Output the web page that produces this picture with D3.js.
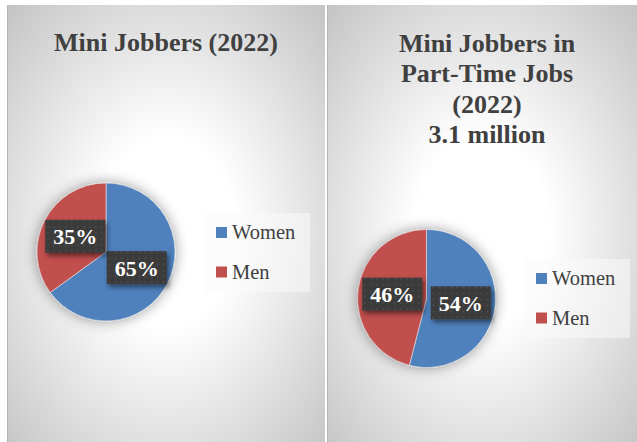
<!DOCTYPE html>
<html>
<head>
<meta charset="utf-8">
<script src="https://cdn.jsdelivr.net/npm/d3@7"></script>
<style>
  html, body { margin: 0; padding: 0; background: #ffffff; }
  svg { display: block; }
</style>
</head>
<body>
<svg id="chart" width="637" height="442"></svg>
<script>
// Shares of mini jobbers by gender, 2022
const categories = ["Women", "Men"];
const miniJobbersShare = [65, 35];
const partTimeShare = [54, 46];
const leftTitle = ["Mini Jobbers (2022)"];
const rightTitle = ["Mini Jobbers in", "Part-Time Jobs", "(2022)", "3.1 million"];
const sliceColors = ["#4f81bd", "#c0504d"];

const FONT = "Liberation Serif";

const svg = d3.select("#chart");
const defs = svg.append("defs");

// Panel background: soft radial fade from white to grey
const grad = defs.append("radialGradient")
  .attr("id", "panelBg").attr("cx", 0.5).attr("cy", 0.52).attr("r", 0.72);
grad.append("stop").attr("offset", 0).attr("stop-color", "#ffffff");
grad.append("stop").attr("offset", 0.3).attr("stop-color", "#ffffff");
grad.append("stop").attr("offset", 1).attr("stop-color", "#c4c4c4");

// Halo under the pie
const pieShadow = defs.append("filter").attr("id", "pieShadow")
  .attr("x", "-40%").attr("y", "-40%").attr("width", "180%").attr("height", "180%");
pieShadow.append("feGaussianBlur").attr("in", "SourceAlpha").attr("stdDeviation", 7).attr("result", "b");
pieShadow.append("feComponentTransfer").attr("in", "b").attr("result", "s")
  .append("feFuncA").attr("type", "linear").attr("slope", 0.4);
const pm = pieShadow.append("feMerge");
pm.append("feMergeNode").attr("in", "s");
pm.append("feMergeNode").attr("in", "SourceGraphic");

// Shadow under the value boxes
const boxShadow = defs.append("filter").attr("id", "boxShadow")
  .attr("x", "-30%").attr("y", "-30%").attr("width", "160%").attr("height", "170%");
boxShadow.append("feGaussianBlur").attr("in", "SourceAlpha").attr("stdDeviation", 2.5).attr("result", "b");
boxShadow.append("feOffset").attr("in", "b").attr("dx", 2).attr("dy", 3).attr("result", "o");
boxShadow.append("feComponentTransfer").attr("in", "o").attr("result", "s")
  .append("feFuncA").attr("type", "linear").attr("slope", 0.5);
const bm = boxShadow.append("feMerge");
bm.append("feMergeNode").attr("in", "s");
bm.append("feMergeNode").attr("in", "SourceGraphic");

// Dotted texture for the value boxes
const dots = defs.append("pattern").attr("id", "dots")
  .attr("width", 6).attr("height", 6).attr("patternUnits", "userSpaceOnUse");
dots.append("rect").attr("width", 6).attr("height", 6).attr("fill", "#3a3a3a");
dots.append("rect").attr("x", 2).attr("y", 2).attr("width", 1.3).attr("height", 1.3).attr("fill", "#5a5a5a");

function drawPanel(cfg) {
  const g = svg.append("g");
  g.append("rect")
    .attr("x", cfg.x).attr("y", cfg.y).attr("width", cfg.w).attr("height", cfg.h)
    .attr("fill", "url(#panelBg)");
  g.append("line").attr("x1", cfg.x + 0.5).attr("x2", cfg.x + 0.5)
    .attr("y1", cfg.y).attr("y2", cfg.y + cfg.h)
    .attr("stroke", "#b4b4b4").attr("stroke-width", 1);

  // Title
  const title = g.append("text")
    .attr("text-anchor", "middle")
    .attr("font-family", FONT)
    .attr("font-weight", "bold").attr("font-size", 26)
    .attr("fill", "#404040");
  cfg.title.forEach((line, i) => {
    title.append("tspan").attr("x", cfg.titleX).attr("y", cfg.titleY + i * 30.3).text(line);
  });

  // Pie
  const data = categories.map((c, i) => ({ name: c, value: cfg.values[i], color: sliceColors[i] }));
  const pie = d3.pie().sort(null).value(d => d.value);
  const arcs = pie(data);
  const arc = d3.arc().innerRadius(0).outerRadius(cfg.r);
  const pg = g.append("g").attr("transform", `translate(${cfg.cx},${cfg.cy})`);
  pg.append("g").attr("filter", "url(#pieShadow)")
    .selectAll("path").data(arcs).join("path")
    .attr("d", arc).attr("fill", d => d.data.color)
    .attr("stroke", "#e8e8e8").attr("stroke-width", 0.6);

  // Value boxes at slice centroids
  const bw = 60, bh = 33;
  const labels = pg.selectAll("g.lbl").data(arcs).join("g").attr("class", "lbl")
    .attr("transform", d => { const c = arc.centroid(d); return `translate(${c[0]},${c[1]})`; });
  labels.append("rect")
    .attr("x", -bw / 2).attr("y", -bh / 2).attr("width", bw).attr("height", bh)
    .attr("fill", "url(#dots)").attr("filter", "url(#boxShadow)");
  labels.append("text")
    .attr("text-anchor", "middle").attr("y", 8)
    .attr("font-family", FONT)
    .attr("font-weight", "bold").attr("font-size", 22).attr("fill", "#ffffff")
    .text(d => d.data.value + "%");

  // Legend
  const lg = g.append("g");
  lg.append("rect")
    .attr("x", cfg.legX).attr("y", cfg.legY).attr("width", 105).attr("height", cfg.legH)
    .attr("fill", "#fafafa").attr("opacity", 0.55);
  const items = lg.selectAll("g.item").data(data).join("g").attr("class", "item")
    .attr("transform", (d, i) => `translate(${cfg.legX + 11},${cfg.legFirst + i * cfg.legStep})`);
  items.append("rect").attr("x", 0).attr("y", -12).attr("width", 11).attr("height", 11)
    .attr("fill", d => d.color);
  items.append("text").attr("x", 16).attr("y", 0)
    .attr("font-family", FONT)
    .attr("font-size", 20.5).attr("fill", "#404040")
    .text(d => d.name);
}

drawPanel({
  x: 7, y: 5, w: 318, h: 437,
  title: leftTitle, titleX: 166, titleY: 51,
  values: miniJobbersShare, cx: 106, cy: 252, r: 69,
  legX: 205, legY: 213, legH: 79, legFirst: 239, legStep: 39.5
});

drawPanel({
  x: 327, y: 5, w: 310, h: 437,
  title: rightTitle, titleX: 487, titleY: 52,
  values: partTimeShare, cx: 426.5, cy: 298.5, r: 69,
  legX: 525, legY: 259, legH: 79, legFirst: 285, legStep: 39.5
});
</script>
</body>
</html>
